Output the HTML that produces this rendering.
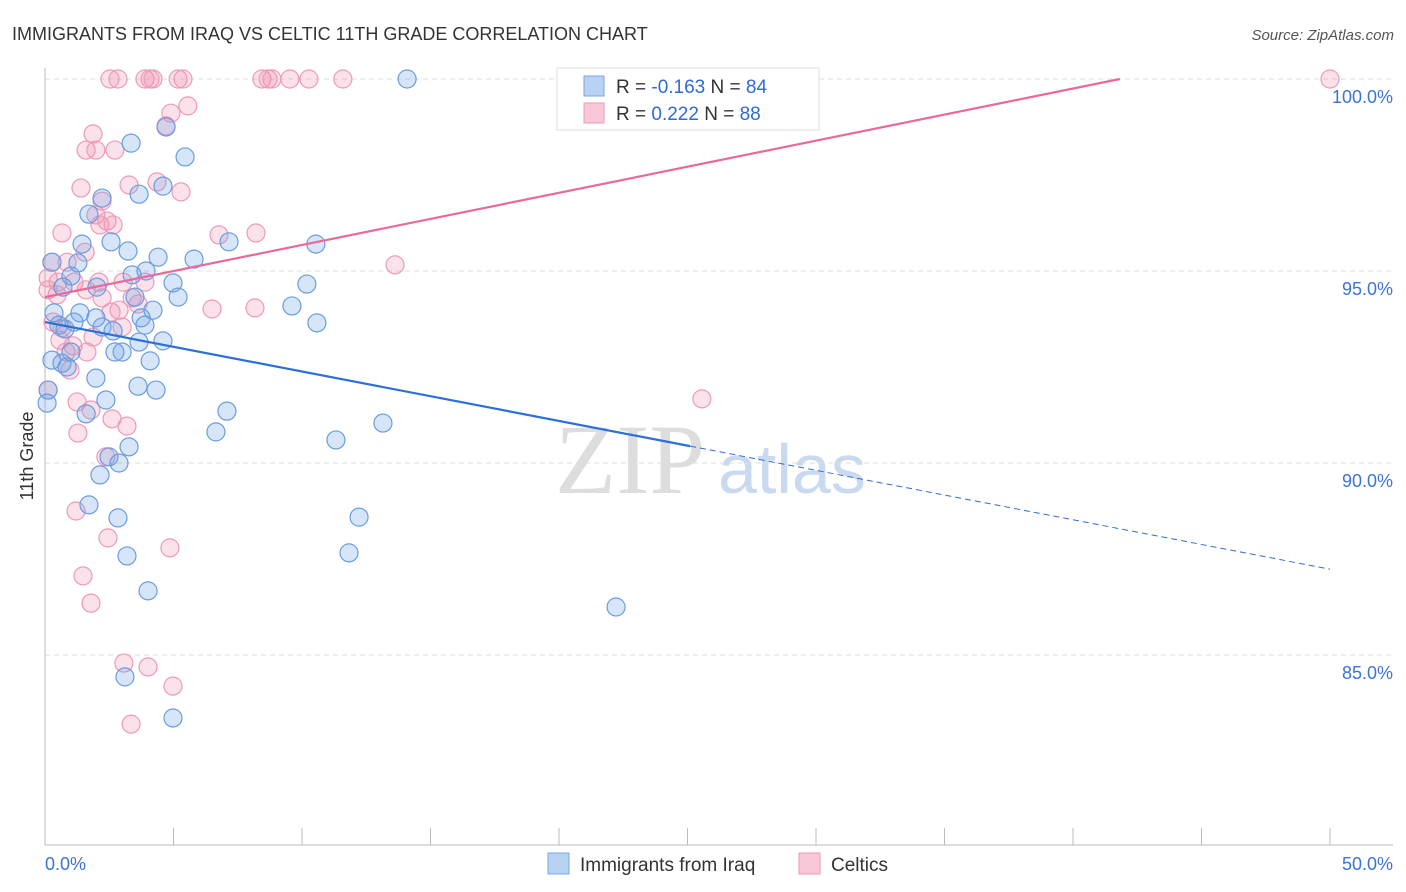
<!DOCTYPE html>
<html><head><meta charset="utf-8"><style>
body{margin:0;background:#fff;font-family:"Liberation Sans",sans-serif;}
#wrap{position:relative;width:1406px;height:892px;overflow:hidden;}
</style></head><body>
<div id="wrap">
<svg id="svg" width="1406" height="892" xmlns="http://www.w3.org/2000/svg">
<text x="12" y="40" font-size="18" fill="#333">IMMIGRANTS FROM IRAQ VS CELTIC 11TH GRADE CORRELATION CHART</text>
<text x="1394" y="40" font-size="15" fill="#555" text-anchor="end" font-style="italic">Source: ZipAtlas.com</text>
<text transform="translate(33,456) rotate(-90)" font-size="18" fill="#333" text-anchor="middle">11th Grade</text>
<text x="555" y="493" font-size="100" fill="#ddd" font-family="Liberation Serif,serif">ZIP</text>
<text x="718" y="493" font-size="70" fill="#c9d9f0">atlas</text>
<g id="grid"></g><g id="axes"></g><g id="pts"></g><g id="lines"></g>
<g>
<rect x="557" y="68" width="262" height="62" fill="#fff" stroke="#ddd"/>
<rect x="584" y="76" width="20" height="20" fill="#b8d2f4" stroke="#7aa6e6"/>
<rect x="584" y="103" width="20" height="20" fill="#f8c6d6" stroke="#ee9ab6"/>
<text x="616" y="93" font-size="19" fill="#333">R = <tspan fill="#2d6bd6">-0.163</tspan>   N = <tspan fill="#2d6bd6">84</tspan></text>
<text x="616" y="120" font-size="19" fill="#333">R = <tspan fill="#2d6bd6"> 0.222</tspan>   N = <tspan fill="#2d6bd6">88</tspan></text>
</g>
<g>
<rect x="548" y="853" width="21" height="21" fill="#b8d2f4" stroke="#7aa6e6"/>
<text x="580" y="871" font-size="19" fill="#333">Immigrants from Iraq</text>
<rect x="799" y="853" width="21" height="21" fill="#f8c6d6" stroke="#ee9ab6"/>
<text x="831" y="871" font-size="19" fill="#333">Celtics</text>
</g>
</svg></div>
<script>
const yTicks=[100,95,90,85];
const xTickLabels=["0.0%","50.0%"];
const blueX=[14.09,3.35,5.45,4.71,3.66,4.59,2.22,1.71,7.16,10.54,1.44,2.57,3.23,4.40,5.80,0.27,1.28,1.01,3.39,3.93,4.98,10.19,2.02,0.70,5.18,3.50,9.61,4.20,0.35,1.36,1.98,3.74,10.58,0.54,1.13,2.22,3.89,2.65,0.78,4.59,3.66,3.0,2.72,1.01,4.09,0.27,0.66,0.86,1.98,3.62,4.32,0.12,0.08,2.37,7.08,1.60,13.15,6.65,11.32,3.27,2.49,2.88,2.14,1.71,2.84,12.22,3.19,11.83,4.01,22.22,3.11,4.98];
const blueY=[100,98.33,97.97,98.75,97.0,97.21,96.9,96.48,95.76,95.70,95.70,95.76,95.52,95.36,95.31,95.23,95.21,94.87,94.90,95.0,94.69,94.66,94.58,94.58,94.32,94.32,94.09,93.98,93.91,93.91,93.78,93.78,93.65,93.59,93.67,93.54,93.59,93.44,93.49,93.18,93.15,92.89,92.89,92.89,92.66,92.68,92.60,92.50,92.21,92.0,91.90,91.90,91.56,91.64,91.35,91.28,91.04,90.81,90.60,90.42,90.16,90.0,89.69,88.91,88.57,88.59,87.58,87.66,86.67,86.25,84.43,83.36];
const pinkX=[2.53,2.84,3.89,4.09,4.20,5.18,5.37,8.44,8.68,8.83,9.53,10.27,11.59,50,4.71,4.9,5.56,1.87,1.60,1.98,2.72,1.40,3.27,4.36,5.29,2.22,1.98,2.41,2.65,2.14,0.66,6.77,8.21,1.56,13.62,0.27,0.86,0.12,0.51,1.13,2.10,3.04,3.89,0.47,0.12,1.60,2.22,3.39,3.62,6.50,8.17,2.57,2.88,0.66,0.31,3.0,1.87,0.58,1.09,0.82,1.63,0.97,0.12,1.25,1.79,2.61,3.19,1.28,2.37,25.56,1.21,2.45,4.86,1.48,1.79,3.07,4.01,4.98,3.35];
const pinkY=[100,100,100,100,100,100,100,100,100,100,100,100,100,100,98.78,99.11,99.3,98.57,98.15,98.15,98.15,97.16,97.24,97.32,97.06,96.82,96.46,96.30,96.20,96.20,95.99,95.94,95.99,95.49,95.16,95.23,95.23,94.82,94.71,94.71,94.71,94.71,94.71,94.38,94.51,94.51,94.30,94.30,94.14,94.01,94.04,93.93,93.98,93.52,93.67,93.54,93.28,93.20,93.05,92.89,92.89,92.42,91.90,91.59,91.38,91.15,90.96,90.78,90.16,91.67,88.75,88.05,87.79,87.06,86.35,84.79,84.69,84.19,83.20];
const blueLine=[93.67,-0.1287,25.1];
const pinkLine=[94.32,0.1358];
const X=v=>45+v/50*1285, Y=v=>79+(100-v)*38.4;
const NS="http://www.w3.org/2000/svg";
function mk(t,a,p){const e=document.createElementNS(NS,t);for(const k in a)e.setAttribute(k,a[k]);p.appendChild(e);return e;}
const grid=document.getElementById('grid'),axes=document.getElementById('axes'),pts=document.getElementById('pts'),lines=document.getElementById('lines');
yTicks.forEach(t=>{
 const l=mk('line',{x1:45,x2:1393,y1:Y(t),y2:Y(t),stroke:'#ddd','stroke-dasharray':'5,4'},grid);
 
 
 const tx=mk('text',{x:1393,y:Y(t)+24,'font-size':18,fill:'#3a74d8','text-anchor':'end'},grid);
 tx.textContent=t.toFixed(1)+'%';
 
 
});
const ax=mk('line',{x1:45,x2:45,y1:68,y2:845,stroke:'#bbb'},axes);


const bx=mk('line',{x1:45,x2:1393,y1:845,y2:845,stroke:'#bbb'},axes);


for(let i=0;i<=10;i++){const t=mk('line',{x1:X(i*5),x2:X(i*5),y1:828,y2:845,stroke:'#bbb'},axes);
 
 }
const xl0=mk('text',{x:45,y:870,'font-size':18,fill:'#3a74d8'},axes);xl0.textContent=xTickLabels[0];


const xl1=mk('text',{x:1393,y:870,'font-size':18,fill:'#3a74d8','text-anchor':'end'},axes);xl1.textContent=xTickLabels[1];


pinkX.forEach((v,i)=>{const c=mk('circle',{cx:X(v),cy:Y(pinkY[i]),r:9,fill:'rgba(240,140,170,0.25)',stroke:'#ee9ab6','stroke-width':1.2},pts);
 
 });
blueX.forEach((v,i)=>{const c=mk('circle',{cx:X(v),cy:Y(blueY[i]),r:9,fill:'rgba(110,160,230,0.28)',stroke:'#6a9de0','stroke-width':1.2},pts);
 
 });
const bl=v=>blueLine[0]+blueLine[1]*v;
const b1=mk('line',{x1:X(0),y1:Y(bl(0)),x2:X(blueLine[2]),y2:Y(bl(blueLine[2])),stroke:'#2d6fd8','stroke-width':2.2},lines);


const b2=mk('line',{x1:X(blueLine[2]),y1:Y(bl(blueLine[2])),x2:X(50),y2:Y(bl(50)),stroke:'#2d6fd8','stroke-width':1,'stroke-dasharray':'6,4'},lines);


const xEnd=(100-pinkLine[0])/pinkLine[1];
const p1=mk('line',{x1:X(0),y1:Y(pinkLine[0]),x2:X(xEnd),y2:Y(100),stroke:'#e8699a','stroke-width':2.2},lines);


</script>
</body></html>
